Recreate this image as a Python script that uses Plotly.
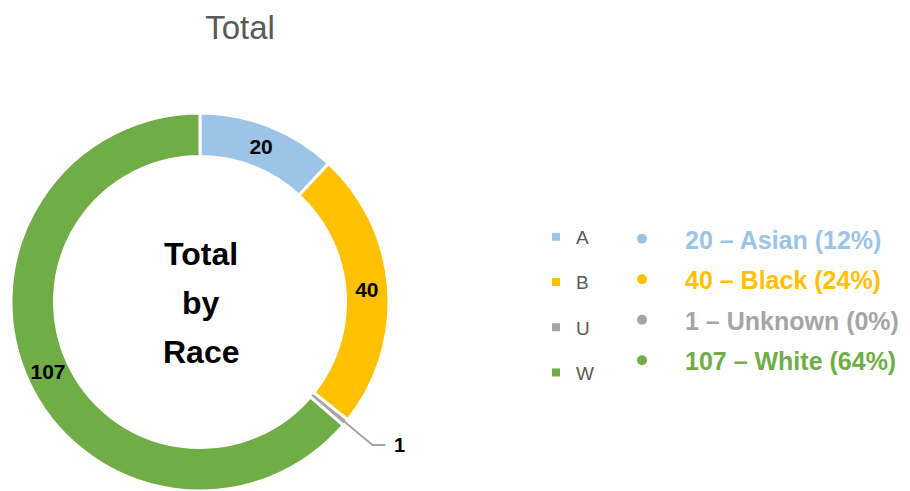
import math
import plotly.graph_objects as go

# data
codes = ["A", "B", "U", "W"]
races = ["Asian", "Black", "Unknown", "White"]
counts = [20, 40, 1, 107]
percents = [12, 24, 0, 64]
colors = ["#9DC3E6", "#FFC000", "#A5A5A5", "#70AD47"]

# page has an 8px body margin, so the figure is sized to fit the window
OFF = 8
W, H = 910 - OFF, 491 - OFF
FONT = "Liberation Sans, Arial, sans-serif"


def fx(x):
    return (x - OFF) / W


def fy(y):
    return 1 - (y - OFF) / H


# donut geometry (screen pixels)
cx, cy, R = 200, 302, 189
hole = 0.77

fig = go.Figure()

fig.add_trace(go.Pie(
    labels=codes,
    values=counts,
    text=[str(v) if v > 1 else "" for v in counts],
    textinfo="text",
    textposition=["inside" if v > 1 else "none" for v in counts],
    insidetextorientation="horizontal",
    insidetextfont=dict(family=FONT, size=21, color="black", weight="bold"),
    marker=dict(colors=colors, line=dict(color="white", width=3)),
    hole=hole,
    sort=False,
    direction="clockwise",
    rotation=0,
    showlegend=False,
    hoverinfo="label+value+percent",
    domain=dict(x=[fx(cx - R), fx(cx + R)], y=[max(fy(cy + R), 0), fy(cy - R)]),
))

# legend entries (two legends: codes and descriptions)
for code, race, v, p, c in zip(codes, races, counts, percents, colors):
    fig.add_trace(go.Scatter(
        x=[None], y=[None], mode="markers", name=code,
        marker=dict(symbol="square", size=8, color=c),
        legendgroup=code, legend="legend",
    ))
    fig.add_trace(go.Scatter(
        x=[None], y=[None], mode="markers",
        name=f"<b><span style='color:{c}'>{v} – {race} ({p}%)</span></b>",
        marker=dict(symbol="circle", size=10, color=c),
        legendgroup=code + "2", legend="legend2",
    ))

# leader line + label for the tiny slice
total = sum(counts)
i_small = counts.index(min(counts))
mid = (sum(counts[:i_small]) + counts[i_small] / 2) / total * 2 * math.pi
r0, r1 = R * hole, R + 35
x0, y0 = cx + r0 * math.sin(mid), cy - r0 * math.cos(mid)
x1, y1 = cx + r1 * math.sin(mid), cy - r1 * math.cos(mid)
x2 = x1 + 13
fig.add_shape(
    type="path", xref="paper", yref="paper",
    path=f"M{fx(x0)},{fy(y0)} L{fx(x1)},{fy(y1)} L{fx(x2)},{fy(y1)}",
    line=dict(color="#A5A5A5", width=2),
)
fig.add_annotation(
    x=fx(x2 + 7), y=fy(y1), xref="paper", yref="paper",
    text=f"<b>{counts[i_small]}</b>", showarrow=False,
    xanchor="left", yanchor="middle",
    font=dict(family=FONT, size=20, color="black"),
)

# centre text
for txt, yy in [("Total", 254), ("by", 303), ("Race", 352)]:
    fig.add_annotation(
        x=fx(201), y=fy(yy), xref="paper", yref="paper",
        text=f"<b>{txt}</b>", showarrow=False,
        xanchor="center", yanchor="middle",
        font=dict(family=FONT, size=32, color="black"),
    )

fig.update_layout(
    width=W, height=H,
    margin=dict(l=0, r=0, t=0, b=0),
    paper_bgcolor="white", plot_bgcolor="white",
    title=dict(text="Total", x=fx(240), xanchor="center", y=fy(27), yanchor="middle",
               font=dict(family=FONT, size=33, color="#595959")),
    xaxis=dict(visible=False), yaxis=dict(visible=False),
    legend=dict(
        x=fx(536), y=fy(218), xanchor="left", yanchor="top",
        font=dict(family=FONT, size=19, color="#595959"),
        tracegroupgap=17.5, itemwidth=30, bgcolor="rgba(0,0,0,0)",
    ),
    legend2=dict(
        x=fx(599), y=fy(216), xanchor="left", yanchor="top",
        font=dict(family=FONT, size=25),
        tracegroupgap=5, itemwidth=76, bgcolor="rgba(0,0,0,0)",
    ),
)

fig.write_html("out.html")
